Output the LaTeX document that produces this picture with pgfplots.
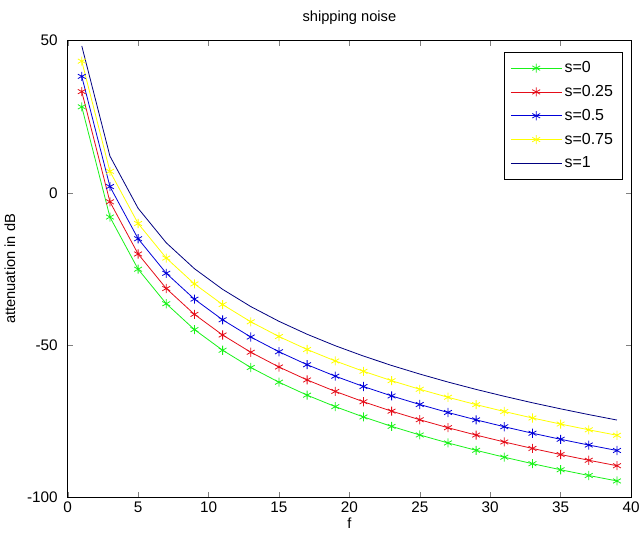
\documentclass[border=0pt]{standalone}
\usepackage{pgfplots}
\pgfplotsset{compat=1.18}
\usepackage{fontspec}
\setmainfont{Liberation Sans}

\definecolor{mgreen}{rgb}{0.1,0.95,0.1}
\definecolor{mred}{rgb}{0.9,0.05,0.1}
\definecolor{mblue}{rgb}{0,0,0.85}
\definecolor{myellow}{rgb}{1,1,0}
\definecolor{mnavy}{rgb}{0,0,0.5}

\begin{document}
\begin{tikzpicture}
\begin{axis}[
    scale only axis,
    width=423pt, height=343pt,
    xmin=0, xmax=40, ymin=-100, ymax=50,
    xtick={0,5,...,40}, ytick={-100,-50,0,50},
    tick align=inside, tick pos=both,
    major tick length=4pt,
    tick label style={font=\fontsize{11.5}{14}\selectfont},
    yticklabel style={xshift=-4pt},
    /pgf/number format/assume math mode=true,
    title={shipping noise},
    title style={font=\fontsize{11}{13}\selectfont, inner ysep=8pt, yshift=-2pt},
    xlabel={f},
    ylabel={attenuation in dB},
    label style={font=\fontsize{11}{13}\selectfont},
    xlabel style={yshift=3pt},
    ylabel style={yshift=2pt},
    legend style={at={(0.985,0.975)}, anchor=north east, draw=black,
        font=\fontsize{12}{14}\selectfont, row sep=4pt,
        inner xsep=5pt, inner ysep=5pt},
    legend cell align=left,
    legend image code/.code={
        \draw[#1, mark repeat=2, mark phase=2] plot coordinates {(0pt,0pt) (19pt,0pt) (38pt,0pt)};},
    every axis plot/.append style={line width=0.6pt},
    mark options={solid, line width=0.6pt},
    mark size=3.4pt,
]
\addplot[color=mgreen, mark=asterisk] coordinates {
(1,28.23) (3,-7.95) (5,-25.08) (7,-36.42) (9,-44.91) (11,-51.69) (13,-57.35)
(15,-62.19) (17,-66.44) (19,-70.21) (21,-73.60) (23,-76.69) (25,-79.51)
(27,-82.13) (29,-84.55) (31,-86.81) (33,-88.94) (35,-90.93) (37,-92.82) (39,-94.61)};
\addplot[color=mred, mark=asterisk] coordinates {
(1,33.23) (3,-2.95) (5,-20.08) (7,-31.42) (9,-39.91) (11,-46.69) (13,-52.35)
(15,-57.19) (17,-61.44) (19,-65.21) (21,-68.60) (23,-71.69) (25,-74.51)
(27,-77.13) (29,-79.55) (31,-81.81) (33,-83.94) (35,-85.93) (37,-87.82) (39,-89.61)};
\addplot[color=mblue, mark=asterisk] coordinates {
(1,38.23) (3,2.05) (5,-15.08) (7,-26.42) (9,-34.91) (11,-41.69) (13,-47.35)
(15,-52.19) (17,-56.44) (19,-60.21) (21,-63.60) (23,-66.69) (25,-69.51)
(27,-72.13) (29,-74.55) (31,-76.81) (33,-78.94) (35,-80.93) (37,-82.82) (39,-84.61)};
\addplot[color=myellow, mark=asterisk] coordinates {
(1,43.23) (3,7.05) (5,-10.08) (7,-21.42) (9,-29.91) (11,-36.69) (13,-42.35)
(15,-47.19) (17,-51.44) (19,-55.21) (21,-58.60) (23,-61.69) (25,-64.51)
(27,-67.13) (29,-69.55) (31,-71.81) (33,-73.94) (35,-75.93) (37,-77.82) (39,-79.61)};
\addplot[color=mnavy, mark=none] coordinates {
(1,48.23) (3,12.05) (5,-5.08) (7,-16.42) (9,-24.91) (11,-31.69) (13,-37.35)
(15,-42.19) (17,-46.44) (19,-50.21) (21,-53.60) (23,-56.69) (25,-59.51)
(27,-62.13) (29,-64.55) (31,-66.81) (33,-68.94) (35,-70.93) (37,-72.82) (39,-74.61)};
\legend{s=0, s=0.25, s=0.5, s=0.75, s=1}
\end{axis}
\end{tikzpicture}
\end{document}
